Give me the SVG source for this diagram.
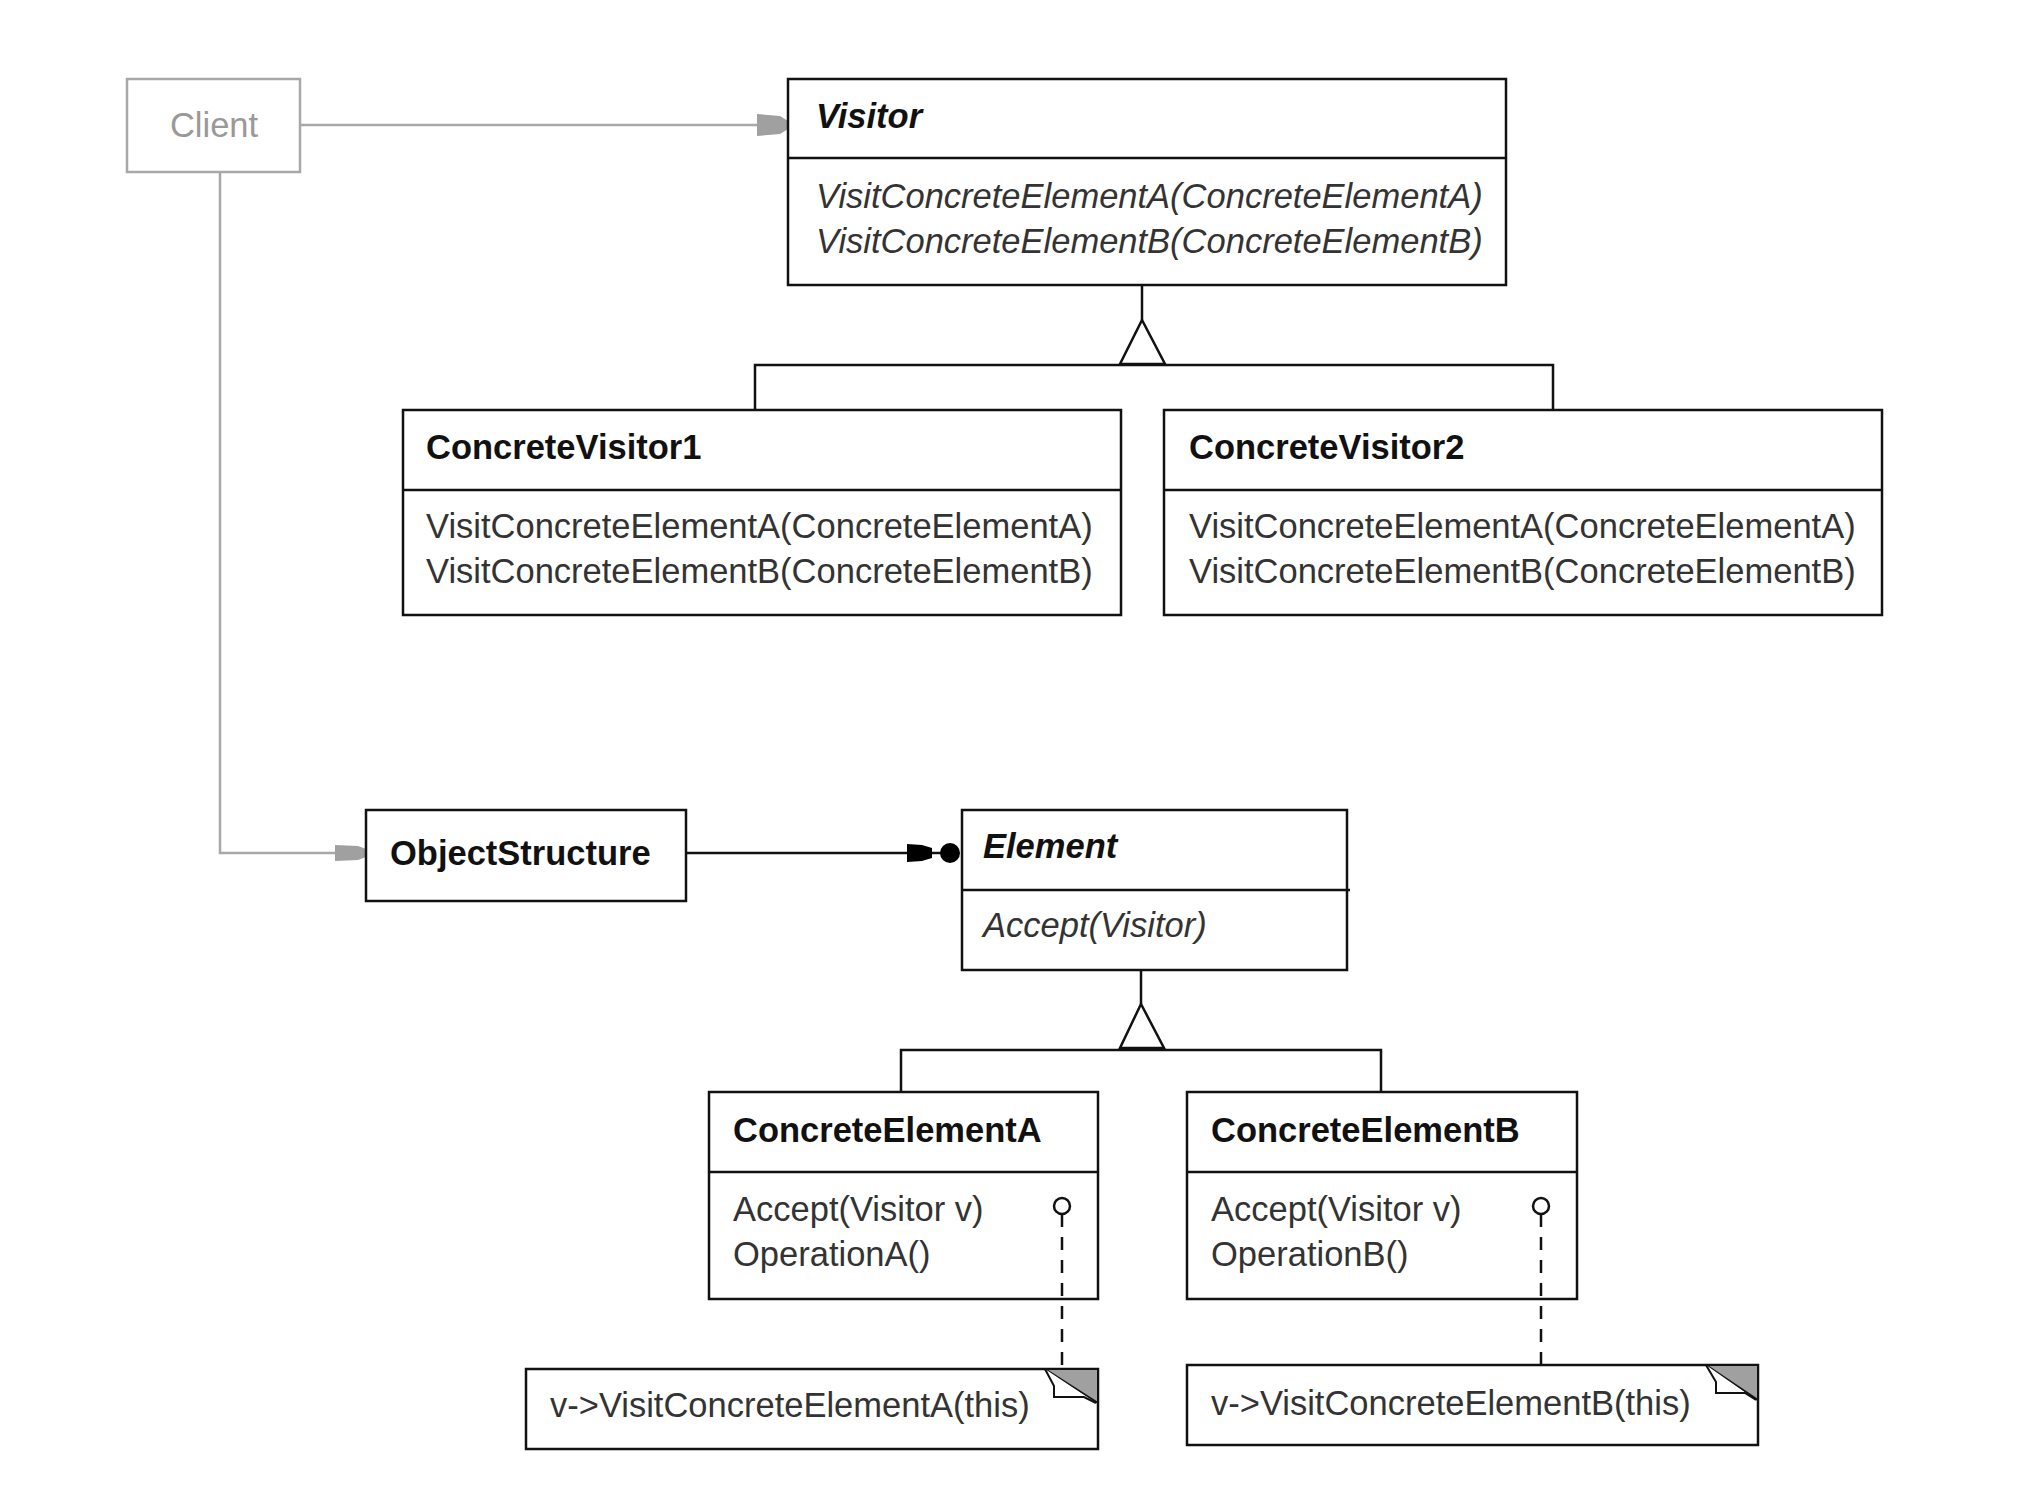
<svg xmlns="http://www.w3.org/2000/svg" width="2028" height="1500" viewBox="0 0 2028 1500">
<style>
.box{fill:#fff;stroke:#111;stroke-width:2.5}
.ln{fill:none;stroke:#111;stroke-width:2.5}
.gray{fill:none;stroke:#a8a8a8;stroke-width:2.5}
.t{font-family:"Liberation Sans",Arial,sans-serif;font-size:34.5px;fill:#333}
.b{font-weight:bold;fill:#111}
.i{font-style:italic}
.dash{fill:none;stroke:#111;stroke-width:2.5;stroke-dasharray:13,10}
.fold{fill:#a0a0a0;stroke:#111;stroke-width:2}
</style>
<rect width="2028" height="1500" fill="#fff"/>
<g id="connectors">
<line class="gray" x1="300" y1="125" x2="760" y2="125"/>
<polygon points="757,114 780,116 788,121 788,129 780,134 757,136" fill="#a0a0a0"/>
<polyline class="gray" points="220,172 220,853 338,853"/>
<polygon points="335,845 358,846 366,849 366,857 358,860 335,861" fill="#a0a0a0"/>
<line class="ln" x1="686" y1="853" x2="910" y2="853"/>
<polygon points="907,844 922,845 932,848 932,858 922,861 907,862" fill="#000"/>
<line class="ln" x1="932" y1="853" x2="942" y2="853"/>
<circle cx="950" cy="853" r="10" fill="#000"/>
<line class="ln" x1="1142" y1="285" x2="1142" y2="320"/>
<polygon class="ln" points="1142,320 1120,364 1165,364" style="fill:#fff"/>
<polyline class="ln" points="755,410 755,365 1553,365 1553,410"/>
<line class="ln" x1="1141" y1="970" x2="1141" y2="1004"/>
<polygon class="ln" points="1141,1004 1120,1048 1164,1048" style="fill:#fff"/>
<polyline class="ln" points="901,1092 901,1050 1381,1050 1381,1092"/>
</g>
<g id="client">
<rect x="127" y="79" width="173" height="93" fill="#fff" stroke="#a8a8a8" stroke-width="2.5"/>
<text class="t" x="214" y="137" text-anchor="middle" style="fill:#999">Client</text>
</g>
<g id="visitor">
<rect class="box" x="788" y="79" width="718" height="206"/>
<line class="ln" x1="788" y1="158" x2="1506" y2="158"/>
<text class="t b i" x="816" y="128">Visitor</text>
<text class="t i" x="816" y="208">VisitConcreteElementA(ConcreteElementA)</text>
<text class="t i" x="816" y="253">VisitConcreteElementB(ConcreteElementB)</text>
</g>
<g id="concretevisitor1">
<rect class="box" x="403" y="410" width="718" height="205"/>
<line class="ln" x1="403" y1="490" x2="1121" y2="490"/>
<text class="t b" x="426" y="459">ConcreteVisitor1</text>
<text class="t" x="426" y="538">VisitConcreteElementA(ConcreteElementA)</text>
<text class="t" x="426" y="583">VisitConcreteElementB(ConcreteElementB)</text>
</g>
<g id="concretevisitor2">
<rect class="box" x="1164" y="410" width="718" height="205"/>
<line class="ln" x1="1164" y1="490" x2="1882" y2="490"/>
<text class="t b" x="1189" y="459">ConcreteVisitor2</text>
<text class="t" x="1189" y="538">VisitConcreteElementA(ConcreteElementA)</text>
<text class="t" x="1189" y="583">VisitConcreteElementB(ConcreteElementB)</text>
</g>
<g id="objectstructure">
<rect class="box" x="366" y="810" width="320" height="91"/>
<text class="t b" x="390" y="865">ObjectStructure</text>
</g>
<g id="element">
<rect class="box" x="962" y="810" width="385" height="160"/>
<line class="ln" x1="962" y1="890" x2="1350" y2="890"/>
<text class="t b i" x="983" y="858">Element</text>
<text class="t i" x="983" y="937">Accept(Visitor)</text>
</g>
<g id="concreteelementa">
<rect class="box" x="709" y="1092" width="389" height="207"/>
<line class="ln" x1="709" y1="1172" x2="1098" y2="1172"/>
<text class="t b" x="733" y="1142">ConcreteElementA</text>
<text class="t" x="733" y="1221">Accept(Visitor v)</text>
<text class="t" x="733" y="1266">OperationA()</text>
</g>
<g id="concreteelementb">
<rect class="box" x="1187" y="1092" width="390" height="207"/>
<line class="ln" x1="1187" y1="1172" x2="1577" y2="1172"/>
<text class="t b" x="1211" y="1142">ConcreteElementB</text>
<text class="t" x="1211" y="1221">Accept(Visitor v)</text>
<text class="t" x="1211" y="1266">OperationB()</text>
</g>
<g id="notea">
<rect class="box" x="526" y="1369" width="572" height="80"/>
<polygon class="fold" points="1045,1369 1098,1369 1098,1403"/>
<polyline fill="#fff" stroke="#111" stroke-width="2" points="1045,1369 1054,1386 1054,1397 1084,1397 1096,1403"/>
<text class="t" x="550" y="1417">v-&gt;VisitConcreteElementA(this)</text>
</g>
<g id="noteb">
<rect class="box" x="1187" y="1365" width="571" height="80"/>
<polygon class="fold" points="1706,1365 1758,1365 1758,1400"/>
<polyline fill="#fff" stroke="#111" stroke-width="2" points="1706,1365 1716,1382 1716,1393 1745,1393 1756,1400"/>
<text class="t" x="1211" y="1415">v-&gt;VisitConcreteElementB(this)</text>
</g>
<g id="note-links">
<circle cx="1062" cy="1206" r="8" fill="#fff" stroke="#111" stroke-width="2.5"/>
<line class="dash" x1="1062" y1="1214" x2="1062" y2="1369"/>
<circle cx="1541" cy="1206" r="8" fill="#fff" stroke="#111" stroke-width="2.5"/>
<line class="dash" x1="1541" y1="1214" x2="1541" y2="1365"/>
</g>
</svg>
